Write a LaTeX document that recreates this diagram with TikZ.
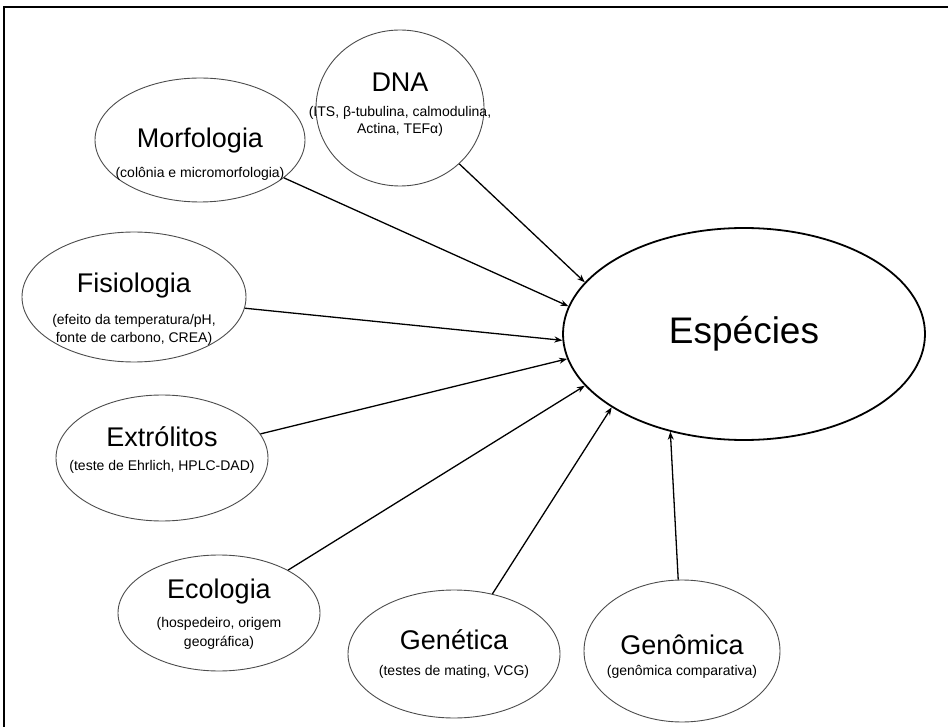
\documentclass[tikz,border=0pt]{standalone}
\usepackage{fontspec}
\setmainfont{Liberation Sans}
\usetikzlibrary{arrows.meta,shapes.geometric}
\begin{document}
\begin{tikzpicture}[x=1pt,y=-1pt,
  src/.style={draw=black!70, line width=0.9pt, ellipse, inner sep=0pt},
  ttl/.style={font=\fontsize{27}{32}\selectfont, anchor=base, inner sep=0pt},
  sub/.style={font=\fontsize{14}{17}\selectfont, anchor=base, inner sep=0pt},
  arr/.style={line width=1.3pt, -{Stealth[length=8pt,width=6pt]}}]
\useasboundingbox (0,0) rectangle (948,727);
\draw[line width=2pt] (4,727) -- (4,7) -- (948,7);

% central
\node[draw, ellipse, line width=1.8pt, minimum width=362pt, minimum height=212pt, inner sep=0pt] (esp) at (744,334) {};
\node[font=\fontsize{37}{44}\selectfont, anchor=base, inner sep=0pt] (espT) at (744,344) {Espécies};

% DNA
\node[src, minimum width=168pt, minimum height=156pt] (dna) at (400,108) {};
\node[ttl] (dnaT) at (400,92) {DNA};
\node[sub] (dnaS1) at (400,117) {(ITS, β-tubulina, calmodulina,};
\node[sub] (dnaS2) at (400,134) {Actina, TEFα)};

% Morfologia
\node[src, minimum width=210pt, minimum height=124pt] (mor) at (200,140) {};
\node[ttl] (morT) at (200,148) {Morfologia};
\node[sub] (morS) at (200,178) {(colônia e micromorfologia)};

% Fisiologia
\node[src, minimum width=224pt, minimum height=130pt] (fis) at (134,297) {};
\node[ttl] (fisT) at (134,293) {Fisiologia};
\node[sub] (fisS1) at (134,325) {(efeito da temperatura/pH,};
\node[sub] (fisS2) at (134,342) {fonte de carbono, CREA)};

% Extrolitos
\node[src, minimum width=212pt, minimum height=126pt] (ext) at (162,458) {};
\node[ttl] (extT) at (162,446) {Extrólitos};
\node[sub] (extS) at (162,470) {(teste de Ehrlich, HPLC-DAD)};

% Ecologia
\node[src, minimum width=202pt, minimum height=116pt] (eco) at (219,613) {};
\node[ttl] (ecoT) at (219,598) {Ecologia};
\node[sub] (ecoS1) at (219,627) {(hospedeiro, origem};
\node[sub] (ecoS2) at (219,646) {geográfica)};

% Genetica
\node[src, minimum width=212pt, minimum height=128pt] (gen) at (454,654) {};
\node[ttl] (genT) at (454,649) {Genética};
\node[sub] (genS) at (454,675) {(testes de mating, VCG)};

% Genomica
\node[src, minimum width=196pt, minimum height=142pt] (gnm) at (682,651) {};
\node[ttl] (gnmT) at (682,654) {Genômica};
\node[sub] (gnmS) at (682,675) {(genômica comparativa)};

% arrows
\draw[arr] (dna) -- (esp.162);
\draw[arr] (mor) -- (esp.171.5);
\draw[arr] (fis) -- (esp.182);
\draw[arr] (ext) -- (esp.188);
\draw[arr] (eco) -- (esp.198);
\draw[arr] (gen) -- (esp.209);
\draw[arr] (gnm) -- (esp.233);
\end{tikzpicture}
\end{document}
